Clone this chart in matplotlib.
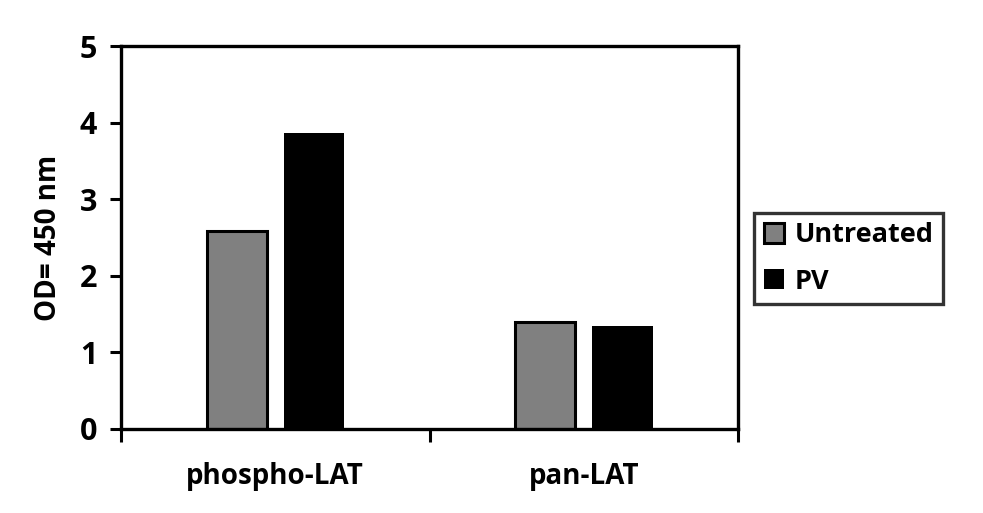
import numpy as np
import matplotlib
matplotlib.use("Agg")
import matplotlib.pyplot as plt

# data
categories = ["phospho-LAT", "pan-LAT"]
untreated = [2.58, 1.40]
pv = [3.86, 1.34]
series_names = ["Untreated", "PV"]

plt.rcParams['font.family'] = ['Open Sans', 'DejaVu Sans']
plt.rcParams['font.weight'] = 'bold'

fig = plt.figure(figsize=(9.83, 5.13), dpi=100)
ax = fig.add_axes([0.123, 0.164, 0.628, 0.746])

x = np.arange(len(categories))
width = 0.195
ax.bar(x - 0.125, untreated, width, color="#808080", edgecolor="black",
       linewidth=2.2, label=series_names[0])
ax.bar(x + 0.125, pv, width, color="black", edgecolor="black",
       linewidth=0, label=series_names[1])

ax.set_xlim(-0.5, 1.5)
ax.set_ylim(0, 5)
ax.set_yticks(range(0, 6))
ax.set_xticks([-0.5, 0.5, 1.5])
ax.set_xticklabels([])
ax.set_xticks(x, minor=True)
ax.set_xticklabels(categories, minor=True)
ax.tick_params(axis='x', which='minor', length=0, pad=24, labelsize=20)
ax.tick_params(axis='x', which='major', length=9, width=2.2, direction='out')
ax.tick_params(axis='y', length=8, width=2.2, direction='out', labelsize=22, pad=9)
for lbl in ax.get_xticklabels(minor=True) + ax.get_yticklabels():
    lbl.set_fontweight('bold')

for s in ax.spines.values():
    s.set_linewidth(2.4)

ax.set_ylabel("OD= 450 nm", fontsize=20, fontweight='bold', labelpad=12)

leg = ax.legend(loc='center left', bbox_to_anchor=(1.004, 0.445), frameon=True,
                fancybox=False, edgecolor='black',
                handlelength=0.75, handleheight=0.75, handletextpad=0.4,
                borderpad=0.35, labelspacing=0.75, prop={'weight': 'bold', 'size': 19.5})
leg.get_frame().set_linewidth(2.4)

fig.savefig("out.png", dpi=100)
